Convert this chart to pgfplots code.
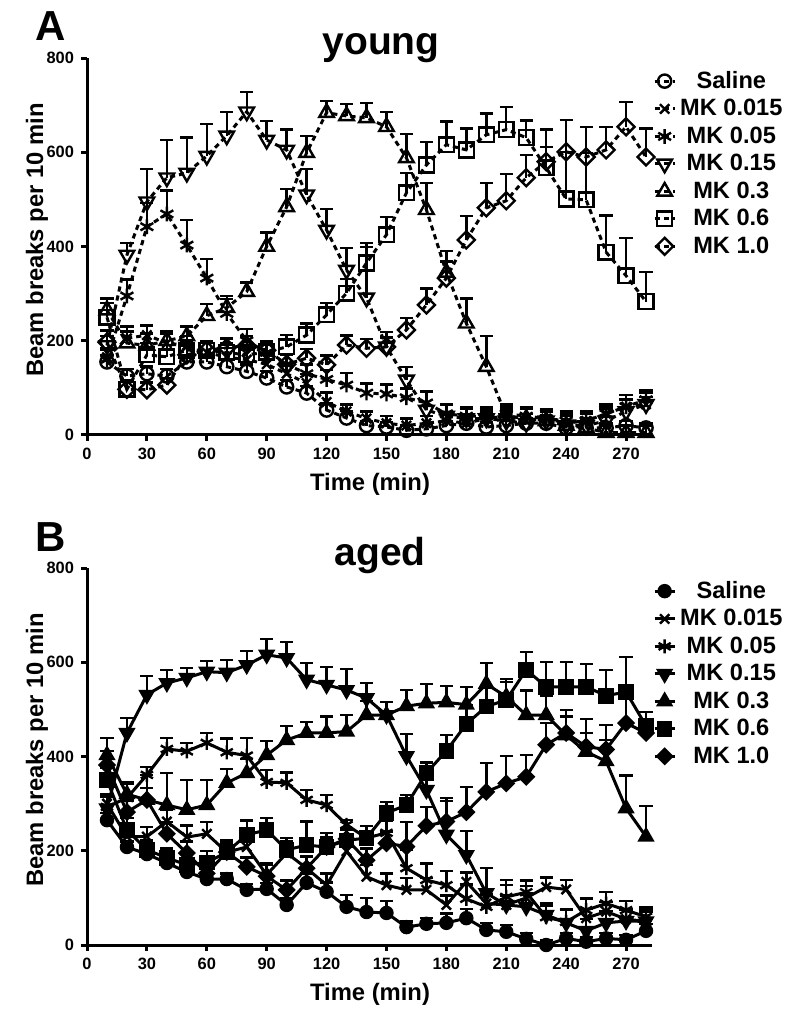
\documentclass[border=0pt]{standalone}
\usepackage{fontspec}
\setmainfont{Liberation Sans}
\usepackage{pgfplots}
\usepackage{pgfplotstable}
\pgfplotsset{compat=1.18}

% ---------- Panel A (young) ----------
\pgfplotstableread[row sep=\\]{x y e\\ 10 155 15\\ 20 125 15\\ 30 130 15\\ 40 125 15\\ 50 155 15\\ 60 155 15\\ 70 145 15\\ 80 135 15\\ 90 121 15\\ 100 102 15\\ 110 89 15\\ 120 53 15\\ 130 36 15\\ 140 20 10\\ 150 17 10\\ 160 10 10\\ 170 13 10\\ 180 20 10\\ 190 25 10\\ 200 17 10\\ 210 20 10\\ 220 25 10\\ 230 25 10\\ 240 15 10\\ 250 15 10\\ 260 15 10\\ 270 20 10\\ 280 15 10\\}\ASal
\pgfplotstableread[row sep=\\]{x y e\\ 10 165 20\\ 20 205 25\\ 30 212 20\\ 40 195 20\\ 50 190 20\\ 60 175 20\\ 70 165 20\\ 80 160 20\\ 90 150 20\\ 100 130 20\\ 110 110 20\\ 120 70 20\\ 130 50 15\\ 140 35 15\\ 150 25 15\\ 160 20 15\\ 170 25 15\\ 180 30 15\\ 190 25 15\\ 200 35 15\\ 210 40 15\\ 220 30 15\\ 230 35 15\\ 240 25 15\\ 250 30 15\\ 260 45 15\\ 270 60 15\\ 280 65 15\\}\AMKa
\pgfplotstableread[row sep=\\]{x y e\\ 10 160 20\\ 20 295 35\\ 30 442 50\\ 40 469 50\\ 50 403 53\\ 60 333 40\\ 70 258 30\\ 80 200 25\\ 90 175 25\\ 100 150 20\\ 110 130 20\\ 120 118 20\\ 130 106 25\\ 140 89 20\\ 150 87 20\\ 160 79 20\\ 170 68 25\\ 180 45 20\\ 190 40 20\\ 200 40 20\\ 210 45 20\\ 220 40 20\\ 230 35 20\\ 240 30 20\\ 250 30 20\\ 260 45 20\\ 270 60 25\\ 280 75 20\\}\AMKb
\pgfplotstableread[row sep=\\]{x y e\\ 10 190 20\\ 20 382 25\\ 30 495 70\\ 40 546 80\\ 50 556 75\\ 60 592 68\\ 70 635 50\\ 80 686 42\\ 90 626 40\\ 100 605 43\\ 110 510 55\\ 120 435 45\\ 130 350 47\\ 140 291 108\\ 150 187 32\\ 160 117 27\\ 170 53 38\\ 180 40 25\\ 190 35 20\\ 200 35 20\\ 210 30 20\\ 220 25 20\\ 230 30 20\\ 240 20 25\\ 250 20 25\\ 260 30 25\\ 270 50 25\\ 280 65 25\\}\AMKc
\pgfplotstableread[row sep=\\]{x y e\\ 10 265 25\\ 20 195 25\\ 30 190 25\\ 40 200 20\\ 50 210 20\\ 60 253 25\\ 70 270 25\\ 80 304 20\\ 90 400 30\\ 100 484 38\\ 110 599 36\\ 120 684 25\\ 130 677 25\\ 140 673 32\\ 150 654 32\\ 160 588 51\\ 170 478 57\\ 180 345 45\\ 190 237 53\\ 200 145 65\\ 210 40 20\\ 220 35 20\\ 230 30 20\\ 240 20 20\\ 250 15 20\\ 260 5 15\\ 270 5 15\\ 280 5 15\\}\AMKd
\pgfplotstableread[row sep=\\]{x y e\\ 10 250 30\\ 20 97 20\\ 30 170 25\\ 40 166 25\\ 50 180 20\\ 60 180 20\\ 70 175 20\\ 80 170 20\\ 90 176 20\\ 100 187 25\\ 110 212 25\\ 120 255 25\\ 130 301 30\\ 140 365 42\\ 150 425 38\\ 160 514 42\\ 170 573 49\\ 180 616 49\\ 190 605 45\\ 200 637 45\\ 210 648 48\\ 220 631 36\\ 230 567 81\\ 240 501 100\\ 250 499 100\\ 260 388 78\\ 270 338 80\\ 280 283 63\\}\AMKe
\pgfplotstableread[row sep=\\]{x y e\\ 10 197 25\\ 20 97 15\\ 30 96 15\\ 40 106 15\\ 50 170 20\\ 60 180 20\\ 70 185 20\\ 80 190 20\\ 90 180 20\\ 100 150 20\\ 110 163 20\\ 120 149 20\\ 130 191 20\\ 140 184 20\\ 150 187 20\\ 160 223 25\\ 170 276 35\\ 180 333 35\\ 190 414 51\\ 200 482 53\\ 210 497 57\\ 220 546 48\\ 230 580 31\\ 240 601 68\\ 250 590 64\\ 260 605 49\\ 270 654 53\\ 280 590 60\\}\AMKf

% ---------- Panel B (aged) ----------
\pgfplotstableread[row sep=\\]{x y e\\ 10 265 15\\ 20 208 12\\ 30 193 12\\ 40 174 12\\ 50 155 12\\ 60 140 12\\ 70 140 12\\ 80 117 12\\ 90 119 12\\ 100 85 15\\ 110 132 20\\ 120 113 20\\ 130 81 25\\ 140 70 30\\ 150 68 25\\ 160 38 12\\ 170 45 12\\ 180 47 20\\ 190 57 20\\ 200 32 15\\ 210 28 15\\ 220 13 12\\ 230 0 10\\ 240 14 12\\ 250 7 10\\ 260 14 12\\ 270 11 10\\ 280 30 15\\}\BSal
\pgfplotstableread[row sep=\\]{x y e\\ 10 300 20\\ 20 230 25\\ 30 230 20\\ 40 262 25\\ 50 229 25\\ 60 236 25\\ 70 197 25\\ 80 208 25\\ 90 149 25\\ 100 195 25\\ 110 163 25\\ 120 127 25\\ 130 199 25\\ 140 145 25\\ 150 127 25\\ 160 117 25\\ 170 117 25\\ 180 85 20\\ 190 134 20\\ 200 88 20\\ 210 85 20\\ 220 100 25\\ 230 123 20\\ 240 118 20\\ 250 57 20\\ 260 71 20\\ 270 55 20\\ 280 50 20\\}\BMKa
\pgfplotstableread[row sep=\\]{x y e\\ 10 293 25\\ 20 312 30\\ 30 361 17\\ 40 416 23\\ 50 411 18\\ 60 429 21\\ 70 409 29\\ 80 402 37\\ 90 346 26\\ 100 344 22\\ 110 308 21\\ 120 297 21\\ 130 255 10\\ 140 227 25\\ 150 238 25\\ 160 163 40\\ 170 138 35\\ 180 127 30\\ 190 98 30\\ 200 81 25\\ 210 102 25\\ 220 112 25\\ 230 59 25\\ 240 49 25\\ 250 74 25\\ 260 88 25\\ 270 74 20\\ 280 60 20\\}\BMKb
\pgfplotstableread[row sep=\\]{x y e\\ 10 290 25\\ 20 450 32\\ 30 531 40\\ 40 556 28\\ 50 567 21\\ 60 580 23\\ 70 578 27\\ 80 594 30\\ 90 616 34\\ 100 609 34\\ 110 563 36\\ 120 552 38\\ 130 541 45\\ 140 524 32\\ 150 488 28\\ 160 401 47\\ 170 329 59\\ 180 234 72\\ 190 191 51\\ 200 110 53\\ 210 85 53\\ 220 81 30\\ 230 64 25\\ 240 47 30\\ 250 30 25\\ 260 47 25\\ 270 51 25\\ 280 50 25\\}\BMKc
\pgfplotstableread[row sep=\\]{x y e\\ 10 403 36\\ 20 320 25\\ 30 308 53\\ 40 297 68\\ 50 287 63\\ 60 297 53\\ 70 344 30\\ 80 365 30\\ 90 403 30\\ 100 435 30\\ 110 450 23\\ 120 450 35\\ 130 453 35\\ 140 488 30\\ 150 488 28\\ 160 507 34\\ 170 513 41\\ 180 515 35\\ 190 510 38\\ 200 554 45\\ 210 527 38\\ 220 488 52\\ 230 488 40\\ 240 445 40\\ 250 410 40\\ 260 390 45\\ 270 290 70\\ 280 230 65\\}\BMKd
\pgfplotstableread[row sep=\\]{x y e\\ 10 350 25\\ 20 244 25\\ 30 202 20\\ 40 185 20\\ 50 170 25\\ 60 175 25\\ 70 197 25\\ 80 234 30\\ 90 244 26\\ 100 202 25\\ 110 212 50\\ 120 208 20\\ 130 222 25\\ 140 227 25\\ 150 280 24\\ 160 297 21\\ 170 365 21\\ 180 412 34\\ 190 469 40\\ 200 506 40\\ 210 520 38\\ 220 584 38\\ 230 548 53\\ 240 548 53\\ 250 548 48\\ 260 529 55\\ 270 537 74\\ 280 465 30\\}\BMKe
\pgfplotstableread[row sep=\\]{x y e\\ 10 382 30\\ 20 282 25\\ 30 308 25\\ 40 236 25\\ 50 195 25\\ 60 152 25\\ 70 197 20\\ 80 166 20\\ 90 146 25\\ 100 117 20\\ 110 163 25\\ 120 208 30\\ 130 225 20\\ 140 180 25\\ 150 216 25\\ 160 209 52\\ 170 253 40\\ 180 262 50\\ 190 282 53\\ 200 325 61\\ 210 343 58\\ 220 357 46\\ 230 425 46\\ 240 450 49\\ 250 421 59\\ 260 415 52\\ 270 471 140\\ 280 450 30\\}\BMKf

\pgfplotsset{
  panel/.style={
    width=282.5pt, height=188.5pt, scale only axis,
    xmin=0, xmax=283, ymin=0, ymax=800,
    axis lines*=left,
    axis line style={line width=1.5pt},
    every tick/.style={black, line width=1.5pt},
    tick align=outside, major tick length=3pt,
    xtick={0,30,...,270}, ytick={0,200,...,800},
    ticklabel style={font=\fontsize{8.2}{9}\selectfont\bfseries},
    /pgf/number format/assume math mode=true,
    scaled ticks=false, clip=false,
    legend cell align=center,
    legend style={draw=none, fill=none, at={(1.12,0.977)}, anchor=north,
      font=\fontsize{11.8}{13.75}\selectfont\bfseries, row sep=0pt, inner sep=0pt},
    legend image code/.code={\draw[mark repeat=2,mark phase=2,##1] plot coordinates {(0pt,0pt)(5pt,0pt)(10pt,0pt)};},
    every axis plot/.append style={line width=1.5pt, black,
      error bars/y dir=plus, error bars/y explicit,
      error bars/error bar style={solid, line width=1.2pt},
      error bars/error mark options={rotate=90, solid, line width=1.2pt, mark size=3.3pt}},
  },
  dsh/.style={dash pattern=on 2.6pt off 2pt},
  opn/.style={mark options={solid, fill=white, line width=1.2pt, mark size=#1}},
  opnrot/.style={mark options={solid, fill=white, line width=1.2pt, mark size=#1, rotate=180}},
  opndia/.style={mark=square, mark options={solid, fill=white, line width=1.2pt, mark size=#1, rotate=45}},
  fil/.style={mark options={solid, fill=black, line width=1.2pt, mark size=#1}},
  filrot/.style={mark options={solid, fill=black, line width=1.2pt, mark size=#1, rotate=180}},
  fildia/.style={mark=square*, mark options={solid, fill=black, line width=1.2pt, mark size=#1, rotate=45}},
}

\begin{document}
\begin{tikzpicture}
\path[use as bounding box] (0,0) rectangle (400pt,-510pt);

% ===== Panel A =====
\begin{axis}[panel, at={(43.5pt,-217.5pt)}, anchor=south west]
\addplot[dsh, opn=3.3pt, mark=o] table[x=x,y=y,y error=e] {\ASal};
\addlegendentry{Saline}
\addplot[dsh, opn=3.3pt, mark=x] table[x=x,y=y,y error=e] {\AMKa};
\addlegendentry{MK 0.015}
\addplot[dsh, opn=3.7pt, mark=asterisk] table[x=x,y=y,y error=e] {\AMKb};
\addlegendentry{MK 0.05}
\addplot[dsh, opnrot=4.2pt, mark=triangle] table[x=x,y=y,y error=e] {\AMKc};
\addlegendentry{MK 0.15}
\addplot[dsh, opn=4.2pt, mark=triangle] table[x=x,y=y,y error=e] {\AMKd};
\addlegendentry{MK 0.3}
\addplot[dsh, opn=3.7pt, mark=square] table[x=x,y=y,y error=e] {\AMKe};
\addlegendentry{MK 0.6}
\addplot[dsh, opndia=3pt] table[x=x,y=y,y error=e] {\AMKf};
\addlegendentry{MK 1.0}
\end{axis}

% ===== Panel B =====
\begin{axis}[panel, at={(43.5pt,-472.5pt)}, anchor=south west]
\addplot[fil=3pt, mark=*] table[x=x,y=y,y error=e] {\BSal};
\addlegendentry{Saline}
\addplot[fil=3.3pt, mark=x] table[x=x,y=y,y error=e] {\BMKa};
\addlegendentry{MK 0.015}
\addplot[fil=3.5pt, mark=asterisk] table[x=x,y=y,y error=e] {\BMKb};
\addlegendentry{MK 0.05}
\addplot[filrot=3.8pt, mark=triangle*] table[x=x,y=y,y error=e] {\BMKc};
\addlegendentry{MK 0.15}
\addplot[fil=3.8pt, mark=triangle*] table[x=x,y=y,y error=e] {\BMKd};
\addlegendentry{MK 0.3}
\addplot[fil=3.3pt, mark=square*] table[x=x,y=y,y error=e] {\BMKe};
\addlegendentry{MK 0.6}
\addplot[fildia=2.6pt] table[x=x,y=y,y error=e] {\BMKf};
\addlegendentry{MK 1.0}
\end{axis}

% ===== Labels =====
\node[anchor=base, font=\fontsize{21}{21}\selectfont\bfseries] at (25.5pt,-20.5pt) {A};
\node[anchor=base, font=\fontsize{19.5}{20}\selectfont\bfseries] at (190.5pt,-27.5pt) {young};
\node[rotate=90, font=\fontsize{11.9}{13}\selectfont\bfseries] at (18.5pt,-120pt) {Beam breaks per 10 min};
\node[anchor=base, font=\fontsize{11.9}{13}\selectfont\bfseries] at (185pt,-245pt) {Time (min)};

\node[anchor=base, font=\fontsize{21}{21}\selectfont\bfseries] at (25.5pt,-275.5pt) {B};
\node[anchor=base, font=\fontsize{19.5}{20}\selectfont\bfseries] at (190pt,-282.5pt) {aged};
\node[rotate=90, font=\fontsize{11.9}{13}\selectfont\bfseries] at (18.5pt,-375pt) {Beam breaks per 10 min};
\node[anchor=base, font=\fontsize{11.9}{13}\selectfont\bfseries] at (185pt,-500pt) {Time (min)};
\end{tikzpicture}
\end{document}
